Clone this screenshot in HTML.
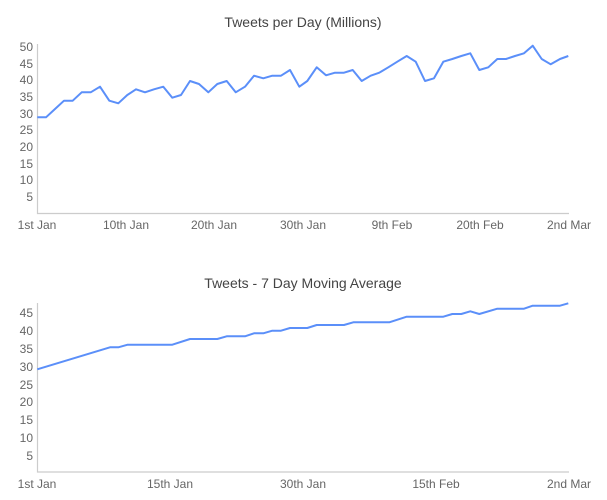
<!DOCTYPE html>
<html><head><meta charset="utf-8"><style>
html,body{margin:0;padding:0;background:#fff;}
svg{display:block;font-family:"Liberation Sans",sans-serif;}
</style></head><body>
<svg width="607" height="500" viewBox="0 0 607 500">
<g fill="#444" font-size="14" text-anchor="middle">
<text x="303" y="27">Tweets per Day (Millions)</text>
<text x="303" y="288">Tweets - 7 Day Moving Average</text>
</g>
<g stroke="#ccc" stroke-width="1.2" fill="none">
<path d="M37.5,44V213.5H569"/>
<path d="M37.5,303V472H569"/>
</g>
<g fill="#666" font-size="12" text-anchor="end">
<text x="33" y="51">50</text><text x="33" y="68">45</text><text x="33" y="84">40</text><text x="33" y="101">35</text><text x="33" y="118">30</text><text x="33" y="134">25</text><text x="33" y="151">20</text><text x="33" y="168">15</text><text x="33" y="184">10</text><text x="33" y="201">5</text>
<text x="33" y="317">45</text><text x="33" y="335">40</text><text x="33" y="353">35</text><text x="33" y="371">30</text><text x="33" y="389">25</text><text x="33" y="406">20</text><text x="33" y="424">15</text><text x="33" y="442">10</text><text x="33" y="460">5</text>
</g>
<g fill="#666" font-size="12" text-anchor="middle">
<text x="37" y="229">1st Jan</text><text x="126" y="229">10th Jan</text><text x="214" y="229">20th Jan</text><text x="303" y="229">30th Jan</text><text x="392" y="229">9th Feb</text><text x="480" y="229">20th Feb</text><text x="569" y="229">2nd Mar</text>
<text x="37" y="488">1st Jan</text><text x="170" y="488">15th Jan</text><text x="303" y="488">30th Jan</text><text x="436" y="488">15th Feb</text><text x="569" y="488">2nd Mar</text>
</g>
<g stroke="#5b8ff9" stroke-width="2" fill="none" stroke-linejoin="round">
<polyline points="37.3,117.3 46,117.3 55,109 64,100.7 72.7,100.7 81.7,92.3 90.7,92.3 100,86.7 109.3,100.7 118.3,103.3 127.3,95 136,89.3 145,92.3 154,89.3 163.3,86.7 172.3,97.7 181,95 190,81 199,84 208.3,92.3 217.3,84 226.7,81 235.7,92.3 245,86.7 254,75.7 263.3,78.3 272.3,75.7 281,75.7 290,70 299.3,86.7 307.3,81 316.7,67.3 326,75.3 335,72.7 344,72.7 352.7,70 361.7,81 370.7,75.7 379.3,72.7 388.3,67.3 397.3,61.7 406.7,56 415.7,61.7 425,81 434,78.3 443.3,61.7 452.3,59 461.3,56 470.3,53.3 479.3,70 488.3,67.3 497.3,59 506,59 515,56 524,53.3 532.7,45.7 541.7,59 550.7,64.3 560,59 568.3,56"/>
<polyline points="37.3,369.3 110,347.3 118.3,347.3 127.7,344.7 172.3,344.7 190,339 217.3,339 226.7,336.3 245,336.3 254,333.3 263.3,333.3 272.3,330.7 281,330.7 290,328 307.3,328 316.7,325 344,325 353.3,322.3 389.3,322.3 406.7,316.7 443.3,316.7 452.3,314 461.3,314 470.3,311.3 479.3,314 497.3,308.7 524,308.7 532.7,305.7 560,305.7 568.3,303.3"/>
</g>
</svg>
</body></html>
